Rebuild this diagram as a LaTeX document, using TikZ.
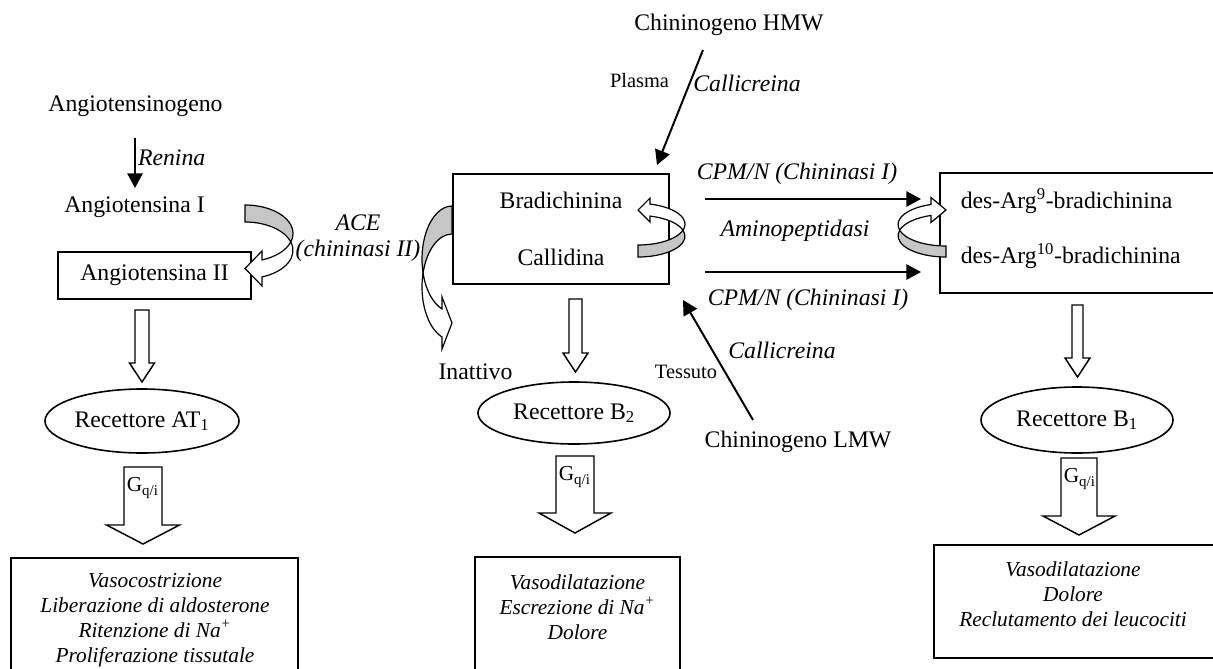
\documentclass[tikz,border=0pt]{standalone}
\usepackage{fontspec}
\setmainfont{Liberation Serif}
\usetikzlibrary{arrows.meta,shapes.geometric}

\tikzset{every picture/.style={line width=1.2pt}}
\tikzset{
	lbl/.style={inner sep=0pt, font=\fontsize{17.8}{21}\selectfont},
	enz/.style={inner sep=0pt, font=\fontsize{17.8}{21}\selectfont\itshape},
	tag/.style={inner sep=0pt, font=\fontsize{15.3}{18}\selectfont},
	gtag/.style={inner sep=0pt, anchor=west, font=\fontsize{16}{18}\selectfont},
	effect/.style={inner sep=0pt, align=center, font=\fontsize{16}{18.6}\selectfont\itshape},
	box/.style 2 args={draw, rectangle, inner sep=0pt, minimum width=#1*0.75pt, minimum height=#2*0.75pt, font=\fontsize{17.8}{21}\selectfont},
	recettore/.style 2 args={draw, ellipse, inner sep=0pt, minimum width=#1*0.75pt, minimum height=#2*0.75pt, font=\fontsize{17.8}{21}\selectfont},
	pfeil/.style={-{Triangle[length=11pt,width=11.5pt]}, line width=1.5pt},
	backband/.style={draw, fill=gray!45, line width=0.9pt},
	frontband/.style={draw, fill=white, line width=0.9pt},
	hollow/.style={draw, fill=white, line width=1.1pt}
}

% block arrow: x centre, y top, y head base, y tip, shaft half width, head half width
\newcommand{\blockarrow}[6]{%
	\draw[hollow] ({#1-#5},#2) -- ({#1+#5},#2) -- ({#1+#5},#3) -- ({#1+#6},#3) -- (#1,#4) -- ({#1-#6},#3) -- ({#1-#5},#3) -- cycle;}

% bent ribbon arrow: x0, y0, xscale, yscale, rx, ry, band, head base, barb
\newcommand{\bentarrow}[9]{%
	\begin{scope}[shift={(#1,#2)},xscale=#3,yscale=#4]
		\pgfmathsetmacro\bcross{asin(#7/(2*#6))}
		\pgfmathsetmacro\bhead{acos(#8/#5)}
		\pgfmathsetmacro\bmid{#6*(1+sin(\bhead))}
		\draw[backband] (0,0) arc[start angle=-90,end angle=\bcross,x radius=#5,y radius=#6]
			arc[start angle=-\bcross,end angle=-90,x radius=#5,y radius=#6] -- cycle;
		\draw[frontband] ({#5*cos(\bcross)},{#6+#7/2}) arc[start angle=\bcross,end angle=\bhead,x radius=#5,y radius=#6]
			-- ++(0,-#9) -- (0,{\bmid+#7/2}) -- (#8,{\bmid+#7+#9}) -- (#8,{\bmid+#7})
			arc[start angle=\bhead,end angle=-\bcross,x radius=#5,y radius=#6] -- cycle;
	\end{scope}}

\begin{document}
\begin{tikzpicture}[x=0.75pt,y=0.75pt,yscale=-1,xscale=1]
	\clip (0,0) rectangle (1213,668);

	%Shape: Rectangle
	\node[box={193}{47}] (angio2) at (154.5,275.5) {Angiotensina II};
	%Shape: Rectangle
	\node[box={216}{110}] (bradibox) at (561,229) {};
	%Shape: Rectangle
	\node[box={280}{120}] (desargbox) at (1080,233) {};
	%Shape: Rectangle
	\node[box={287}{140}] (effetti1) at (154.5,628) {};
	%Shape: Rectangle
	\node[box={205}{140}] (effetti2) at (577.5,627) {};
	%Shape: Rectangle
	\node[box={286}{113}] (effetti3) at (1077,601.5) {};

	%Shape: Ellipse
	\node[recettore={194}{64}] (at1) at (142,421) {Recettore AT\textsubscript{1}};
	%Shape: Ellipse
	\node[recettore={192}{62}] (b2) at (574,413) {Recettore B\textsubscript{2}};
	%Shape: Ellipse
	\node[recettore={192}{66}] (b1) at (1077,420) {Recettore B\textsubscript{1}};

	% Text Node
	\node[lbl] (angiogen) at (135.5,106) {Angiotensinogeno};
	% Text Node
	\node[lbl] (angio1) at (134.5,207) {Angiotensina I};
	% Text Node
	\node[enz] (ace) at (358,223) {ACE};
	% Text Node
	\node[enz] (ace2) at (358,251) {(chininasi II)};
	% Text Node
	\node[lbl] (bradi) at (561,200) {Bradichinina};
	% Text Node
	\node[lbl] (callidina) at (561,257) {Callidina};
	% Text Node
	\node[lbl] (inattivo) at (475.5,372) {Inattivo};
	% Text Node
	\node[lbl] (hmw) at (729,25) {Chininogeno HMW};
	% Text Node
	\node[tag] (plasma) at (639.5,81) {Plasma};
	% Text Node
	\node[enz] (callicreina1) at (747,83) {Callicreina};
	% Text Node
	\node[lbl] (lmw) at (798,442) {Chininogeno LMW};
	% Text Node
	\node[tag] (tessuto) at (686,372) {Tessuto};
	% Text Node
	\node[enz] (callicreina2) at (782,350) {Callicreina};
	% Text Node
	\node[enz] (cpm1) at (797,174) {CPM/N (Chininasi I)};
	% Text Node
	\node[enz] (amino) at (795,231) {Aminopeptidasi};
	% Text Node
	\node[enz] (cpm2) at (808,300) {CPM/N (Chininasi I)};
	% Text Node
	\node[lbl, anchor=west] (des9) at (960,201) {des-Arg\textsuperscript{9}-bradichinina};
	% Text Node
	\node[lbl, anchor=west] (des10) at (960,256) {des-Arg\textsuperscript{10}-bradichinina};

	% Effects
	\node[effect] (testo1) at (155,620) {Vasocostrizione\\Liberazione di aldosterone\\Ritenzione di Na\textsuperscript{+}\\Proliferazione tissutale};
	\node[effect] (testo2) at (577.5,607) {Vasodilatazione\\Escrezione di Na\textsuperscript{+}\\Dolore};
	\node[effect] (testo3) at (1073,594) {Vasodilatazione\\Dolore\\Reclutamento dei leucociti};

	% Arrows
	\coordinate (renina-a) at (135,138);
	\coordinate (renina-b) at (135,188);
	\draw[pfeil] (renina-a) -- (renina-b) node[enz, pos=0.4, anchor=west, xshift=1.5pt] (renina) {Renina};
	\coordinate (hmw-a) at (703,50);
	\coordinate (hmw-b) at (657,165);
	\draw[pfeil] (hmw-a) -- (hmw-b);
	\coordinate (lmw-a) at (753,420);
	\coordinate (lmw-b) at (683,300);
	\draw[pfeil] (lmw-a) -- (lmw-b);
	\coordinate (cpm1-a) at (705,199);
	\coordinate (cpm1-b) at (921,199);
	\draw[pfeil] (cpm1-a) -- (cpm1-b);
	\coordinate (cpm2-a) at (705,272);
	\coordinate (cpm2-b) at (921,272);
	\draw[pfeil] (cpm2-a) -- (cpm2-b);

	%Shape: Curved Arrows
	\bentarrow{245}{205}{1}{1}{48}{28.4}{17}{17}{9}
	\bentarrow{452}{206}{-1}{1}{30}{53}{28}{10}{12}
	\bentarrow{638}{257}{1}{-1}{47}{20.8}{12}{12}{6}
	\bentarrow{946}{257}{-1}{-1}{48}{21.3}{11}{15}{7}

	%Shape: Down Arrows
	\blockarrow{142}{310}{363}{382}{7}{12.5}
	\blockarrow{575.5}{299}{353}{372}{6.5}{12.5}
	\blockarrow{1077.5}{305}{358}{377}{5.5}{12.5}
	\blockarrow{143}{467}{525}{544}{19}{36.5}
	\blockarrow{575}{456}{513}{533}{19}{36}
	\blockarrow{1079}{458}{516}{535}{18}{36}

	% Text Node
	\node[gtag] (g1) at (126,488) {G\textsubscript{q/i}};
	% Text Node
	\node[gtag] (g2) at (558,477) {G\textsubscript{q/i}};
	% Text Node
	\node[gtag] (g3) at (1063,479) {G\textsubscript{q/i}};

\end{tikzpicture}
\end{document}
